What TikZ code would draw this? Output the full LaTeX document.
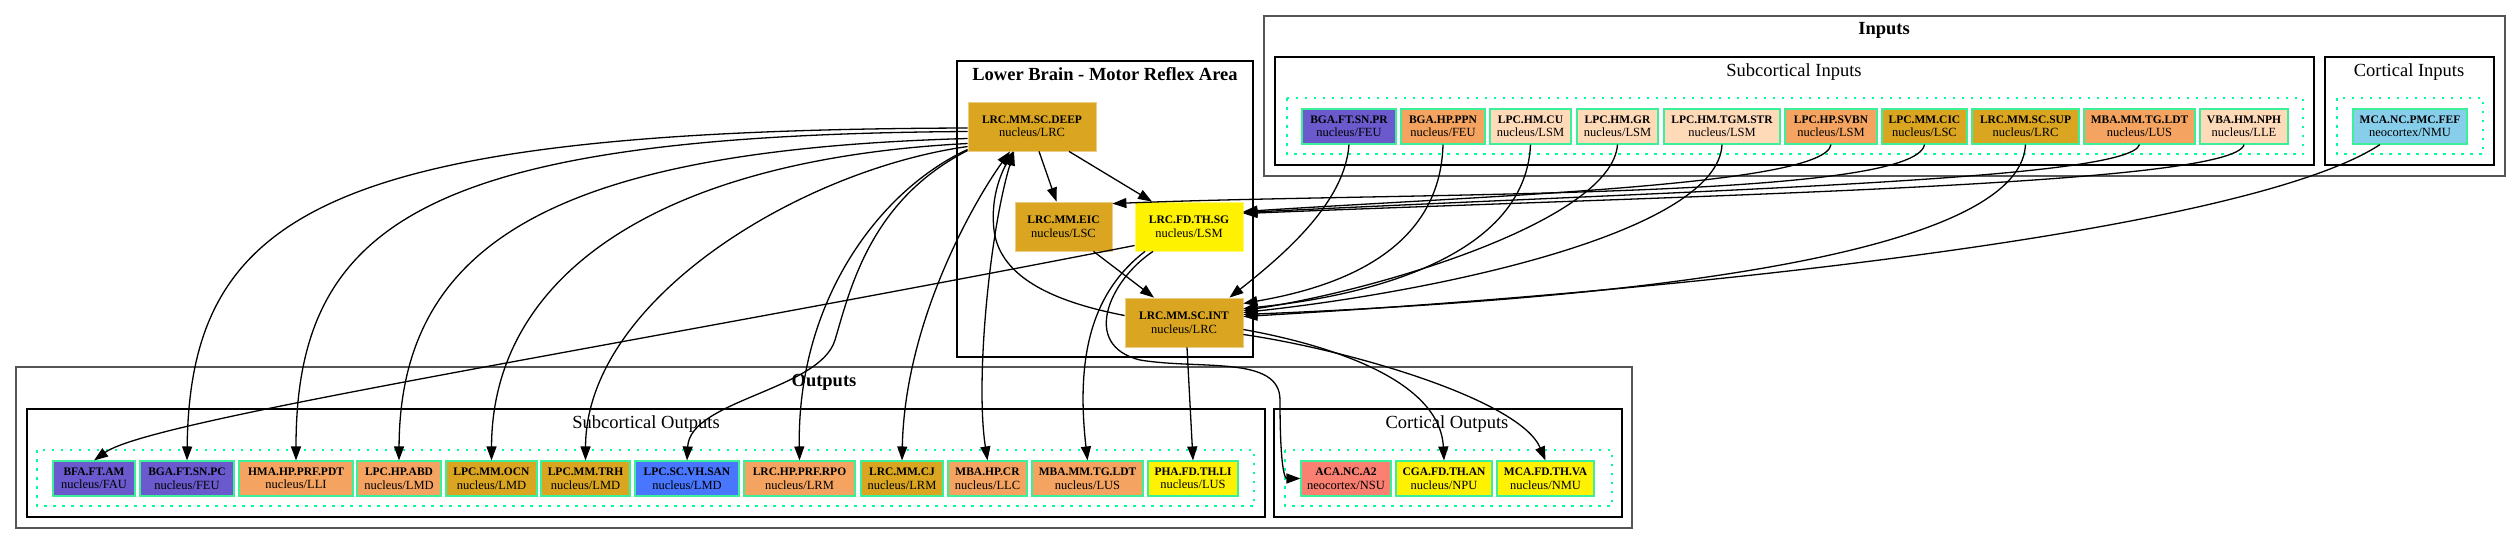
\documentclass[tikz,border=0pt]{standalone}
\usepackage{fontspec}
\setmainfont{Liberation Serif}
\usetikzlibrary{arrows.meta,calc}
\definecolor{slateblue}{HTML}{6A5ACD}
\definecolor{sandybrown}{HTML}{F4A460}
\definecolor{peachpuff}{HTML}{FFDAB9}
\definecolor{goldenrod}{HTML}{DAA520}
\definecolor{skyblue}{HTML}{87CEEB}
\definecolor{royalblue1}{HTML}{4876FF}
\definecolor{salmon}{HTML}{FA8072}
\definecolor{ndgreen}{HTML}{3CF09A}
\definecolor{dotgreen}{HTML}{00FF99}
\definecolor{outergray}{HTML}{555555}
\newcommand{\nlab}[2]{{\fontsize{11.5}{13.5}\selectfont\bfseries #1}\\#2}
\tikzset{
  nd/.style={draw=ndgreen, line width=1.1pt, minimum height=35pt, inner sep=0pt, align=center,
    font=\fontsize{12.5}{13.5}\selectfont},
  lbn/.style={draw=#1!55!white, line width=0.8pt, fill=#1, minimum height=49pt, inner sep=0pt, align=center,
    font=\fontsize{12.5}{13.5}\selectfont},
  arr/.style={line width=1.3pt, -{Triangle[length=14pt,width=10pt]}},
  arrtwo/.style={line width=1.3pt, {Triangle[length=14pt,width=10pt]}-{Triangle[length=14pt,width=10pt]}},
  outerc/.style={draw=outergray, line width=2pt},
  innerc/.style={draw=black, line width=1.4pt},
  dotc/.style={draw=dotgreen, line width=1.3pt, dash pattern=on 2.5pt off 6.5pt},
  ctitle/.style={font=\fontsize{18.5}{20}\selectfont, inner sep=0pt},
  btitle/.style={font=\fontsize{18.5}{20}\selectfont\bfseries, inner sep=0pt},
}
\begin{document}
\begin{tikzpicture}[x=1pt,y=-1pt]
\useasboundingbox[fill=white] (0,0) rectangle (2520,544);

% ---------- clusters ----------
\draw[outerc] (1264,16) rectangle (2505,176);
\node[btitle] (tIn) at (1884,30) {Inputs};
\draw[innerc] (1275,57) rectangle (2314,165);
\node[ctitle] (tSubIn) at (1794,72) {Subcortical Inputs};
\draw[dotc] (1287,98) rectangle (2303,154);
\draw[innerc] (2325,57) rectangle (2494,165);
\node[ctitle] (tCorIn) at (2409,72) {Cortical Inputs};
\draw[dotc] (2337,98) rectangle (2483,154);

\draw[innerc] (957,61) rectangle (1253,357);
\node[btitle] (tLB) at (1105,74) {Lower Brain - Motor Reflex Area};

\draw[outerc] (16,367) rectangle (1632,528);
\node[btitle] (tOut) at (824,382) {Outputs};
\draw[innerc] (27,409) rectangle (1265,517);
\node[ctitle] (tSubOut) at (646,424) {Subcortical Outputs};
\draw[dotc] (37,450) rectangle (1254,506);
\draw[innerc] (1274,409) rectangle (1622,517);
\node[ctitle] (tCorOut) at (1447,424) {Cortical Outputs};
\draw[dotc] (1285,450) rectangle (1612,506);

% ---------- lower brain nodes ----------
\node[lbn=goldenrod, minimum width=128pt] (DEEP) at (1032,126.5) {\nlab{LRC.MM.SC.DEEP}{nucleus/LRC}};
\node[lbn=goldenrod, minimum width=97pt] (EIC) at (1063.5,226.5) {\nlab{LRC.MM.EIC}{nucleus/LSC}};
\node[lbn=yellow, minimum width=108pt] (SG) at (1189,226.5) {\nlab{LRC.FD.TH.SG}{nucleus/LSM}};
\node[lbn=goldenrod, minimum width=118pt] (INT) at (1184,322.5) {\nlab{LRC.MM.SC.INT}{nucleus/LRC}};

% ---------- input nodes ----------
\node[nd, fill=slateblue, minimum width=94pt] (BGAPR) at (1349,126.5) {\nlab{BGA.FT.SN.PR}{nucleus/FEU}};
\node[nd, fill=sandybrown, minimum width=84pt] (PPN) at (1443,126.5) {\nlab{BGA.HP.PPN}{nucleus/FEU}};
\node[nd, fill=peachpuff, minimum width=81pt] (CU) at (1530.5,126.5) {\nlab{LPC.HM.CU}{nucleus/LSM}};
\node[nd, fill=peachpuff, minimum width=81pt] (GR) at (1617.5,126.5) {\nlab{LPC.HM.GR}{nucleus/LSM}};
\node[nd, fill=peachpuff, minimum width=116pt] (STR) at (1722,126.5) {\nlab{LPC.HM.TGM.STR}{nucleus/LSM}};
\node[nd, fill=sandybrown, minimum width=92pt] (SVBN) at (1831,126.5) {\nlab{LPC.HP.SVBN}{nucleus/LSM}};
\node[nd, fill=goldenrod, minimum width=85pt] (CIC) at (1924.5,126.5) {\nlab{LPC.MM.CIC}{nucleus/LSC}};
\node[nd, fill=goldenrod, minimum width=107pt] (SUP) at (2025.5,126.5) {\nlab{LRC.MM.SC.SUP}{nucleus/LRC}};
\node[nd, fill=sandybrown, minimum width=111pt] (LDTi) at (2139.5,126.5) {\nlab{MBA.MM.TG.LDT}{nucleus/LUS}};
\node[nd, fill=peachpuff, minimum width=88pt] (NPH) at (2244,126.5) {\nlab{VBA.HM.NPH}{nucleus/LLE}};
\node[nd, fill=skyblue, minimum width=114pt] (FEF) at (2410,126.5) {\nlab{MCA.NC.PMC.FEF}{neocortex/NMU}};

% ---------- output nodes ----------
\node[nd, fill=slateblue, minimum width=82pt] (BFA) at (94,478.5) {\nlab{BFA.FT.AM}{nucleus/FAU}};
\node[nd, fill=slateblue, minimum width=94pt] (BGAPC) at (187,478.5) {\nlab{BGA.FT.SN.PC}{nucleus/FEU}};
\node[nd, fill=sandybrown, minimum width=114pt] (HMA) at (296,478.5) {\nlab{HMA.HP.PRF.PDT}{nucleus/LLI}};
\node[nd, fill=sandybrown, minimum width=84pt] (ABD) at (399,478.5) {\nlab{LPC.HP.ABD}{nucleus/LMD}};
\node[nd, fill=goldenrod, minimum width=91pt] (OCN) at (491.5,478.5) {\nlab{LPC.MM.OCN}{nucleus/LMD}};
\node[nd, fill=goldenrod, minimum width=89pt] (TRH) at (585.5,478.5) {\nlab{LPC.MM.TRH}{nucleus/LMD}};
\node[nd, fill=royalblue1, minimum width=104pt] (SAN) at (687,478.5) {\nlab{LPC.SC.VH.SAN}{nucleus/LMD}};
\node[nd, fill=sandybrown, minimum width=111pt] (RPO) at (799.5,478.5) {\nlab{LRC.HP.PRF.RPO}{nucleus/LRM}};
\node[nd, fill=goldenrod, minimum width=82pt] (CJ) at (902,478.5) {\nlab{LRC.MM.CJ}{nucleus/LRM}};
\node[nd, fill=sandybrown, minimum width=79pt] (CR) at (987.5,478.5) {\nlab{MBA.HP.CR}{nucleus/LLC}};
\node[nd, fill=sandybrown, minimum width=111pt] (LDTo) at (1087.5,478.5) {\nlab{MBA.MM.TG.LDT}{nucleus/LUS}};
\node[nd, fill=yellow, minimum width=90pt] (LI) at (1193,478.5) {\nlab{PHA.FD.TH.LI}{nucleus/LUS}};
\node[nd, fill=salmon, minimum width=90pt] (ACA) at (1346,478.5) {\nlab{ACA.NC.A2}{neocortex/NSU}};
\node[nd, fill=yellow, minimum width=96pt] (CGA) at (1444,478.5) {\nlab{CGA.FD.TH.AN}{nucleus/NPU}};
\node[nd, fill=yellow, minimum width=97pt] (MCAVA) at (1545.5,478.5) {\nlab{MCA.FD.TH.VA}{nucleus/NMU}};

% ---------- edges inside lower brain ----------
\draw[arr] ($(DEEP.south)+(7,0)$) -- ($(EIC.north)+(-7,0)$);
\draw[arr] ($(DEEP.south)+(37,0)$) -- ($(SG.north)+(-37,0)$);
\draw[arr] ($(EIC.south)+(30,0)$) -- ($(INT.north)+(-30,0)$);
\draw[arr] ($(INT.west)+(0,-7)$) .. controls (1060,303) and (1000,280) .. (994,230)
   .. controls (990,195) and (1003,170) .. ($(DEEP.south)+(-19,0)$);
\draw[arrtwo] ($(DEEP.south)+(-22,0)$) .. controls (975,200) and (905,320) .. (CJ.north);
\draw[arrtwo] ($(DEEP.south)+(-18,0)$) .. controls (990,230) and (975,380) .. (CR.north);

% ---------- DEEP to outputs ----------
\draw[arr] ($(DEEP.west)+(0,1.5)$) .. controls (330,130) and (190,210) .. (BGAPC.north);
\draw[arr] ($(DEEP.west)+(0,5)$) .. controls (430,135) and (296,220) .. (HMA.north);
\draw[arr] ($(DEEP.west)+(0,12)$) .. controls (560,150) and (400,240) .. (ABD.north);
\draw[arr] ($(DEEP.west)+(0,17)$) .. controls (650,160) and (492,280) .. (OCN.north);
\draw[arr] ($(DEEP.west)+(0,20)$) .. controls (800,170) and (586,300) .. (TRH.north);
\draw[arr] ($(DEEP.west)+(0,23)$) .. controls (880,190) and (797,300) .. (RPO.north);
\draw[arr] ($(DEEP.west)+(0,24)$) .. controls (870,200) and (850,290) .. (835,340)
   .. controls (820,390) and (690,400) .. (SAN.north);

% ---------- SG to outputs ----------
\draw[arr] ($(SG.west)+(0,19)$) .. controls (600,350) and (150,420) .. (BFA.north);
\draw[arr] ($(SG.south)+(-44,0)$) .. controls (1095,290) and (1075,350) .. (LDTo.north);
\draw[arr] ($(SG.south)+(-36,0)$) .. controls (1110,280) and (1080,345) .. (1140,360)
   .. controls (1200,370) and (1280,355) .. (1280,400)
   .. controls (1280,470) and (1285,478.5) .. (ACA.west);

% ---------- INT to outputs ----------
\draw[arr] ($(INT.south)+(3,0)$) -- (LI.north);
\draw[arr] ($(INT.east)+(0,7)$) .. controls (1330,345) and (1440,380) .. (CGA.north);
\draw[arr] ($(INT.east)+(0,12)$) .. controls (1350,350) and (1520,400) .. (MCAVA.north);

% ---------- inputs to lower brain ----------
\draw[arr] (BGAPR.south) .. controls (1345,200) and (1290,250) .. ($(INT.north east)+(-14,0)$);
\draw[arr] (PPN.south) .. controls (1440,260) and (1320,290) .. ($(INT.east)+(0,-19)$);
\draw[arr] (CU.south) .. controls (1525,270) and (1330,300) .. ($(INT.east)+(0,-14)$);
\draw[arr] (GR.south) .. controls (1612,220) and (1380,290) .. ($(INT.east)+(0,-12)$);
\draw[arr] (STR.south) .. controls (1718,230) and (1450,290) .. ($(INT.east)+(0,-10)$);
\draw[arr] (SUP.south) .. controls (2020,260) and (1600,300) .. ($(INT.east)+(0,-8)$);
\draw[arr] ($(FEF.south)+(-30,0)$) .. controls (2250,230) and (1700,290) .. ($(INT.east)+(0,-6)$);
\draw[arr] (SVBN.south) .. controls (1825,185) and (1500,195) .. ($(SG.east)+(0,-15)$);
\draw[arr] (CIC.south) .. controls (1915,200) and (1400,192) .. ($(EIC.north east)+(0,2)$);
\draw[arr] (LDTi.south) .. controls (2130,180) and (1700,190) .. ($(SG.east)+(0,-14)$);
\draw[arr] (NPH.south) .. controls (2235,185) and (1700,195) .. ($(SG.east)+(0,-13)$);
\end{tikzpicture}
\end{document}
